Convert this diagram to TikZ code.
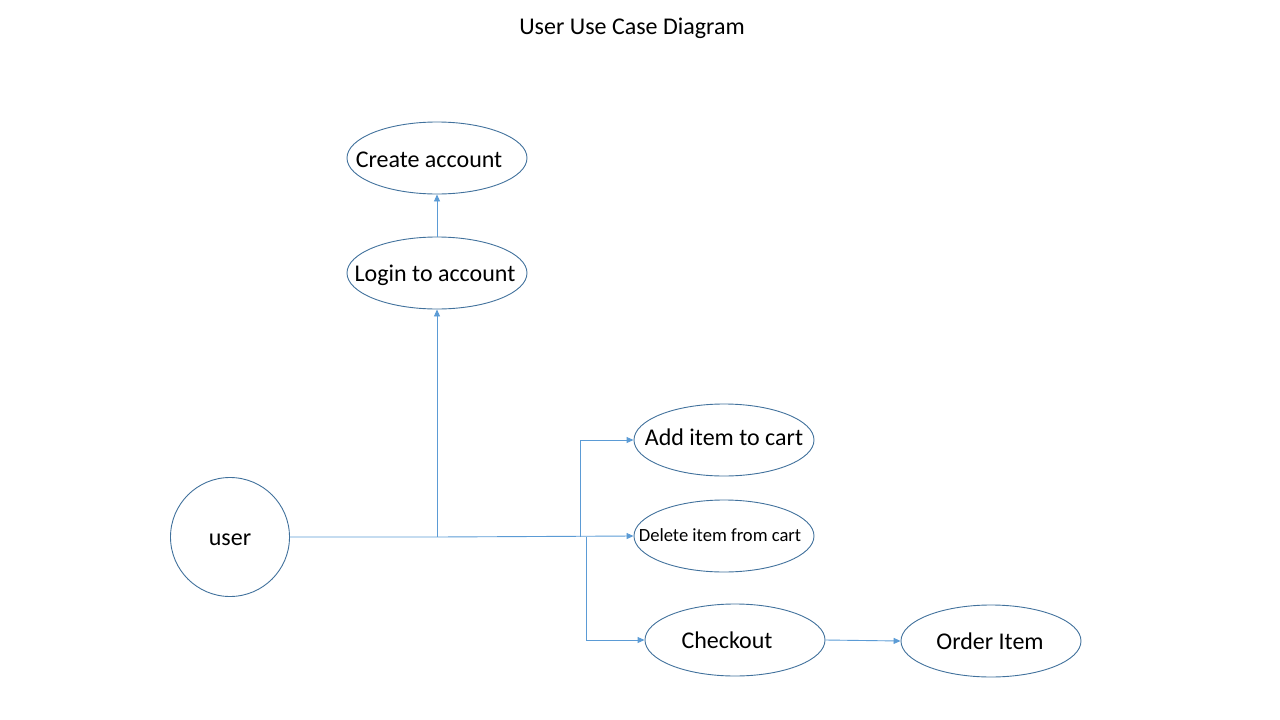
\documentclass[tikz,border=0pt]{standalone}
\usepackage{fontspec}
\setmainfont{Carlito}
\usetikzlibrary{arrows.meta,shapes.geometric}
\definecolor{shapeline}{HTML}{41719C}
\definecolor{connline}{HTML}{5B9BD5}
\tikzset{
  usecase/.style={ellipse, draw=shapeline, line width=0.9pt, minimum width=180pt, minimum height=72pt, inner sep=0pt},
  uclabel/.style={font=\fontsize{24}{28}\selectfont, inner sep=0pt},
  actor/.style={circle, draw=shapeline, line width=0.9pt, minimum size=119pt, inner sep=0pt},
  conn/.style={draw=connline, line width=0.9pt, -{Triangle[length=7pt,width=6pt]}},
  title/.style={font=\fontsize{24}{28}\selectfont}
}
\begin{document}
\begin{tikzpicture}[x=1pt,y=-1pt]
\useasboundingbox (0,0) rectangle (1280,720);
\node[title] (title) at (632,28) {User Use Case Diagram};
\node[usecase, label={[uclabel, xshift=-8pt, yshift=-1.5pt]center:Create account}] (create) at (437,158) {};
\node[usecase, label={[uclabel, xshift=-2pt, yshift=-2pt]center:Login to account}] (login) at (437,273) {};
\node[usecase, label={[uclabel, yshift=3pt]center:Add item to cart}] (add) at (724,440) {};
\node[usecase, label={[uclabel, font=\fontsize{18.6}{22}\selectfont, xshift=-4pt, yshift=1pt]center:Delete item from cart}] (del) at (724,536) {};
\node[usecase, label={[uclabel, xshift=-8pt]center:Checkout}] (chk) at (735,640) {};
\node[usecase, label={[uclabel, xshift=-1pt]center:Order Item}] (order) at (991,641) {};
\node[actor, label={[uclabel, yshift=-3pt]center:user}] (user) at (230,537) {};
\coordinate (j1) at (437,537);
\coordinate (j2) at (580,537);
\coordinate (j3) at (586,537);
\draw[conn] (user.east) -- (j1) -- (del.west);
\draw[conn] (j1) -- (login.south);
\draw[conn] (login.north) -- (create.south);
\draw[conn] (j2) |- (add.west);
\draw[conn] (j3) |- (chk.west);
\draw[conn] (chk.east) -- (order.west);
\end{tikzpicture}
\end{document}
